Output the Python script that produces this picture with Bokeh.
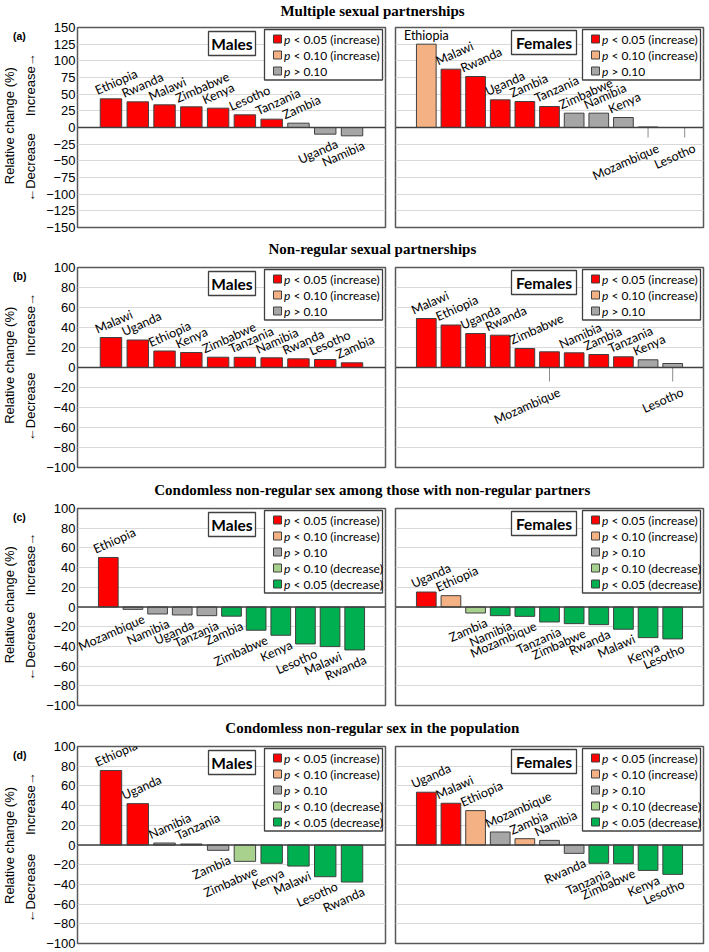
import math
from bokeh.plotting import figure
from bokeh.layouts import column, row
from bokeh.models import Range1d, FixedTicker, Span, Label, BoxAnnotation, ColumnDataSource, Grid
from bokeh.core.properties import value
from bokeh.embed import file_html
from bokeh.resources import INLINE

# ---------------- data ----------------
titles = ["Multiple sexual partnerships",
          "Non-regular sexual partnerships",
          "Condomless non-regular sex among those with non-regular partners",
          "Condomless non-regular sex in the population"]
tags = ["(a)", "(b)", "(c)", "(d)"]

a_male_countries = ["Ethiopia", "Rwanda", "Malawi", "Zimbabwe", "Kenya", "Lesotho", "Tanzania", "Zambia", "Uganda", "Namibia"]
a_male_values = [43, 38.5, 34, 31, 29, 19, 12.5, 6.5, -10, -12.5]
a_male_sig = ["inc05", "inc05", "inc05", "inc05", "inc05", "inc05", "inc05", "ns", "ns", "ns"]
a_female_countries = ["Ethiopia", "Malawi", "Rwanda", "Uganda", "Zambia", "Tanzania", "Zimbabwe", "Namibia", "Kenya", "Mozambique", "Lesotho"]
a_female_values = [125, 87.5, 76.5, 41.5, 39, 31.5, 21.5, 21.5, 15, 0.8, 0]
a_female_sig = ["inc10", "inc05", "inc05", "inc05", "inc05", "inc05", "ns", "ns", "ns", "ns", "ns"]

b_male_countries = ["Malawi", "Uganda", "Ethiopia", "Kenya", "Zimbabwe", "Tanzania", "Namibia", "Rwanda", "Lesotho", "Zambia"]
b_male_values = [30, 27.5, 16.5, 15, 10.3, 10.2, 9.7, 8.7, 8, 4.7]
b_male_sig = ["inc05"] * 10
b_female_countries = ["Malawi", "Ethiopia", "Uganda", "Rwanda", "Zimbabwe", "Mozambique", "Namibia", "Zambia", "Tanzania", "Kenya", "Lesotho"]
b_female_values = [49, 42.5, 34, 32.3, 19, 15.7, 14.7, 13, 10.7, 7.7, 4]
b_female_sig = ["inc05"] * 9 + ["ns", "ns"]

c_male_countries = ["Ethiopia", "Mozambique", "Namibia", "Uganda", "Tanzania", "Zambia", "Zimbabwe", "Kenya", "Lesotho", "Malawi", "Rwanda"]
c_male_values = [50.3, -2.4, -7.1, -8.1, -8.8, -9.3, -23.6, -28.7, -37.5, -40.2, -43.6]
c_male_sig = ["inc05", "ns", "ns", "ns", "ns", "dec05", "dec05", "dec05", "dec05", "dec05", "dec05"]
c_female_countries = ["Uganda", "Ethiopia", "Zambia", "Namibia", "Mozambique", "Tanzania", "Zimbabwe", "Rwanda", "Malawi", "Kenya", "Lesotho"]
c_female_values = [15.2, 11.5, -6.1, -8.8, -9.5, -15.2, -16.9, -17.9, -22.6, -31.1, -32.4]
c_female_sig = ["inc05", "inc10", "dec10", "dec05", "dec05", "dec05", "dec05", "dec05", "dec05", "dec05", "dec05"]

d_male_countries = ["Ethiopia", "Uganda", "Namibia", "Tanzania", "Zambia", "Zimbabwe", "Kenya", "Malawi", "Lesotho", "Rwanda"]
d_male_values = [75.6, 42, 2, 1, -5.4, -16.6, -18.6, -21.4, -32.2, -37.6]
d_male_sig = ["inc05", "inc05", "ns", "ns", "ns", "dec10", "dec05", "dec05", "dec05", "dec05"]
d_female_countries = ["Uganda", "Malawi", "Ethiopia", "Mozambique", "Zambia", "Namibia", "Rwanda", "Tanzania", "Zimbabwe", "Kenya", "Lesotho"]
d_female_values = [53.6, 42.4, 34.9, 13.2, 6.4, 4.7, -8.5, -18.6, -19, -25.8, -29.8]
d_female_sig = ["inc05", "inc05", "inc10", "ns", "inc10", "ns", "ns", "dec05", "dec05", "dec05", "dec05"]

y_limits = [(-150, 150, 25), (-100, 100, 20), (-100, 100, 20), (-100, 100, 20)]
legend_sets = [["inc05", "inc10", "ns"], ["inc05", "inc10", "ns"],
               ["inc05", "inc10", "ns", "dec10", "dec05"], ["inc05", "inc10", "ns", "dec10", "dec05"]]
# labels drawn below the axis with a leader line (with sideways shift of the leader, px), and labels drawn level
female_leader_labels = [["Mozambique", "Lesotho"], ["Mozambique", "Lesotho"], [], []]
female_leader_shift = [[0, 12], [0, 0], [], []]
leader_lengths = [10, 14, 0, 0]
female_level_labels = [["Ethiopia"], [], [], []]

SIG_COLOR = {"inc05": "#FF0000", "inc10": "#F4B183", "ns": "#A6A6A6", "dec10": "#A9D18E", "dec05": "#00B050"}
SIG_TEXT = {"inc05": "< 0.05 (increase)", "inc10": "< 0.10 (increase)", "ns": "> 0.10",
            "dec10": "< 0.10 (decrease)", "dec05": "< 0.05 (decrease)"}

# ---------------- layout constants ----------------
FW = 308
FRAME_H = [200, 200, 197, 197]
BOTTOM_B = [12, 13, 13, 7]
TITLE_H = [19, 20, 20, 20]
TITLE_CY = [10, 9, 9, 9]
TOP_B = 8
GUT = 39
TOTAL_W = 706
ANG = math.radians(24)
LBL_FONT = "Lato"
EDGE = "#404040"


def make_panel(names, vals, sigs, ylim, legend_codes, box_text, is_male, FH, bottom_border,
               leader_names=(), leader_shift=(), leader_px=0, level_names=()):
    n = len(names)
    xr = (-1.25, n + 0.25)
    ylo, yhi, ystep = ylim
    left = 38 if is_male else 1
    right = 9 if is_male else 3
    p = figure(width=left + FW + right, height=TOP_B + FH + bottom_border,
               x_range=Range1d(*xr), y_range=Range1d(ylo, yhi),
               x_axis_type=None, y_axis_type=("linear" if is_male else None),
               toolbar_location=None, output_backend="svg",
               min_border_left=left, min_border_right=right,
               min_border_top=TOP_B, min_border_bottom=bottom_border)
    p.outline_line_color = "#595959"
    p.outline_line_width = 1.5

    ticks = list(range(ylo, yhi + 1, ystep))
    if is_male:
        ax = p.yaxis[0]
        ax.ticker = FixedTicker(ticks=ticks)
        ax.major_label_overrides = {t: (f"\u2212{abs(t)}" if t < 0 else str(t)) for t in ticks}
        ax.major_label_text_font = "Liberation Sans"
        ax.major_label_text_font_size = "13px"
        ax.major_label_text_color = "#000000"
        ax.major_label_standoff = 2
        ax.major_tick_line_color = None
        ax.major_tick_out = 0
        ax.major_tick_in = 0
        ax.minor_tick_line_color = None
        ax.axis_line_color = None
        p.ygrid.grid_line_color = "#D9D9D9"
        p.ygrid.grid_line_width = 1
    else:
        p.add_layout(Grid(dimension=1, ticker=FixedTicker(ticks=ticks),
                          grid_line_color="#D9D9D9", grid_line_width=1))

    def px2x(px):
        return xr[0] + px * (xr[1] - xr[0]) / FW

    def py2y(py):
        return yhi - py * (yhi - ylo) / FH

    upp = (yhi - ylo) / FH
    xpp = (xr[1] - xr[0]) / FW

    idx = list(range(n))
    src = ColumnDataSource(dict(x=idx, top=vals, color=[SIG_COLOR[s] for s in sigs]))
    p.vbar(x="x", top="top", bottom=0, width=0.8, source=src,
           fill_color="color", line_color=EDGE, line_width=1)

    p.add_layout(Span(location=0, dimension="width", line_color=EDGE, line_width=1.3))

    # country labels
    up = dict(x=[], y=[], t=[])
    dn = dict(x=[], y=[], t=[])
    lv = dict(x=[], y=[], t=[])
    ld = dict(x=[], y=[], t=[], y1=[])
    for i, (nm, v) in enumerate(zip(names, vals)):
        if nm in leader_names:
            sh = leader_shift[list(leader_names).index(nm)] * xpp
            ld["x"].append(i + sh); ld["y"].append(0); ld["t"].append(nm); ld["y1"].append(-leader_px * upp)
        elif nm in level_names:
            lv["x"].append(i); lv["y"].append(v); lv["t"].append(nm)
        elif v >= 0:
            up["x"].append(i - 0.4); up["y"].append(v); up["t"].append(nm)
        else:
            dn["x"].append(i + 0.4); dn["y"].append(v); dn["t"].append(nm)
    common = dict(text_font=value(LBL_FONT), text_font_size=value("12.5px"), text_color="#000000")
    p.text(x="x", y="y", text="t", source=ColumnDataSource(up), text_align="left", angle=ANG,
           text_baseline="bottom", x_offset=-1.5, y_offset=-1, **common)
    p.text(x="x", y="y", text="t", source=ColumnDataSource(dn), text_align="right", angle=ANG,
           text_baseline="top", x_offset=-2, y_offset=2, **common)
    if lv["x"]:
        p.text(x="x", y="y", text="t", source=ColumnDataSource(lv), text_align="center",
               text_baseline="bottom", y_offset=-1, **common)
    if ld["x"]:
        lsrc = ColumnDataSource(ld)
        p.segment(x0="x", y0="y", x1="x", y1="y1", source=lsrc, line_color="#8C8C8C", line_width=1)
        p.text(x="x", y="y", text="t", source=lsrc, text_align="right", angle=ANG,
               text_baseline="top", x_offset=7, y_offset=leader_px + 3, **common)

    # sex box
    if is_male:
        bl, br, bt, bb = FW - 177, FW - 130, 4, 28
    else:
        bl, br, bt, bb = FW - 192, FW - 127, 3, 27
    p.add_layout(BoxAnnotation(left=px2x(bl), right=px2x(br), top=py2y(bt), bottom=py2y(bb),
                               fill_color="white", fill_alpha=1, line_color=EDGE, line_alpha=1, line_width=1.3))
    p.add_layout(Label(x=px2x((bl + br) / 2), y=py2y((bt + bb) / 2), text=box_text,
                       text_align="center", text_baseline="middle", text_font=LBL_FONT,
                       text_font_style="bold", text_font_size="15.5px", text_color="#000000"))

    # legend
    k = len(legend_codes)
    p.add_layout(BoxAnnotation(left=px2x(FW - 121), right=px2x(FW - 3), top=py2y(2),
                               bottom=py2y(11.5 + 16 * (k - 1) + 9),
                               fill_color="white", fill_alpha=1, line_color=EDGE, line_alpha=1, line_width=1.3))
    for j, code in enumerate(legend_codes):
        cy = 11.5 + 16 * j
        p.add_layout(BoxAnnotation(left=px2x(FW - 112), right=px2x(FW - 104), top=py2y(cy - 4),
                                   bottom=py2y(cy + 4), fill_color=SIG_COLOR[code], fill_alpha=1,
                                   line_color=EDGE, line_alpha=1, line_width=1))
        p.add_layout(Label(x=px2x(FW - 101.5), y=py2y(cy), text="p", text_align="left",
                           text_baseline="middle", text_font=LBL_FONT, text_font_style="italic",
                           text_font_size="12px", text_color="#000000"))
        p.add_layout(Label(x=px2x(FW - 92), y=py2y(cy), text=SIG_TEXT[code], text_align="left",
                           text_baseline="middle", text_font=LBL_FONT,
                           text_font_size="12px", text_color="#000000"))
    return p


def gutter_fig(h, FH, ylim, tag):
    ylo, yhi, _ = ylim
    p = figure(width=GUT, height=h, x_range=Range1d(0, GUT), y_range=Range1d(h, 0),
               x_axis_type=None, y_axis_type=None, toolbar_location=None, output_backend="svg",
               min_border=0)
    p.outline_line_color = None
    zero = TOP_B + FH * yhi / (yhi - ylo)
    p.add_layout(Label(x=12.5, y=TOP_B + 1.5, text=tag, text_align="left", text_baseline="middle",
                       text_font="Liberation Sans", text_font_style="bold", text_font_size="10.5px",
                       text_color="#000000"))
    ylab = dict(angle=math.pi / 2, text_align="center", text_baseline="middle",
                text_font="Liberation Sans", text_font_size="13px", text_color="#000000")
    p.add_layout(Label(x=9, y=zero, text="Relative change (%)", **ylab))
    p.add_layout(Label(x=30, y=zero - 45, text="Increase\u2192", **ylab))
    p.add_layout(Label(x=30, y=zero + 46, text="\u2190Decrease", **ylab))
    return p


def title_fig(text, h, cy):
    p = figure(width=TOTAL_W, height=h, x_range=Range1d(0, TOTAL_W), y_range=Range1d(h, 0),
               x_axis_type=None, y_axis_type=None, toolbar_location=None, output_backend="svg",
               min_border=0)
    p.outline_line_color = None
    p.add_layout(Label(x=372, y=cy, text=text, text_align="center", text_baseline="middle",
                       text_font="Liberation Serif", text_font_style="bold", text_font_size="15px",
                       text_color="#000000"))
    return p


males = [(a_male_countries, a_male_values, a_male_sig), (b_male_countries, b_male_values, b_male_sig),
         (c_male_countries, c_male_values, c_male_sig), (d_male_countries, d_male_values, d_male_sig)]
females = [(a_female_countries, a_female_values, a_female_sig), (b_female_countries, b_female_values, b_female_sig),
           (c_female_countries, c_female_values, c_female_sig), (d_female_countries, d_female_values, d_female_sig)]

children = []
for k in range(4):
    FH = FRAME_H[k]
    bb = BOTTOM_B[k]
    children.append(title_fig(titles[k], TITLE_H[k], TITLE_CY[k]))
    mn, mv, ms = males[k]
    fn, fv, fs = females[k]
    g = gutter_fig(TOP_B + FH + bb, FH, y_limits[k], tags[k])
    pm = make_panel(mn, mv, ms, y_limits[k], legend_sets[k], "Males", True, FH, bb)
    pf = make_panel(fn, fv, fs, y_limits[k], legend_sets[k], "Females", False, FH, bb,
                    female_leader_labels[k], female_leader_shift[k], leader_lengths[k], female_level_labels[k])
    children.append(row(g, pm, pf, spacing=0))

layout = column(*children, spacing=0)
open("out.html", "w").write(file_html(layout, INLINE))
